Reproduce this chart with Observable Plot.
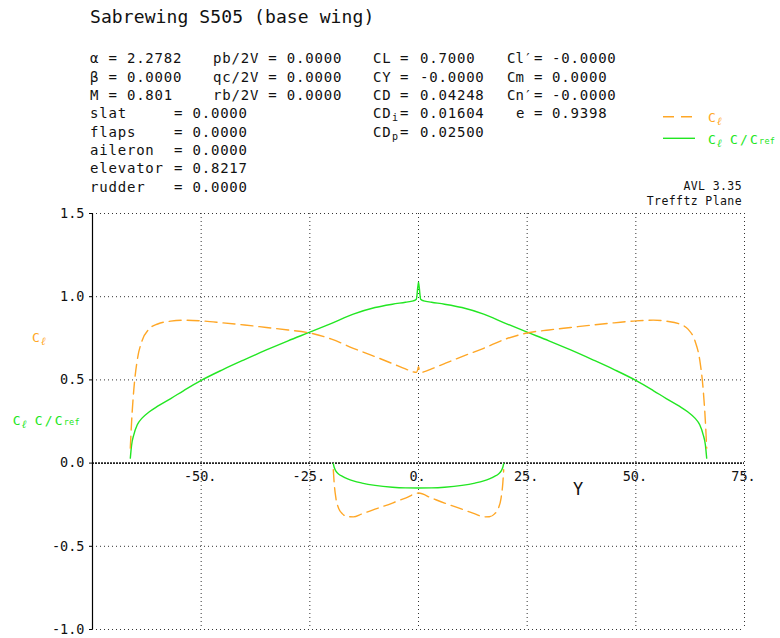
<!DOCTYPE html>
<html><head><meta charset="utf-8">
<script src="https://cdn.jsdelivr.net/npm/d3@7"></script>
<script src="https://cdn.jsdelivr.net/npm/@observablehq/plot@0.6"></script>
<style>
html,body{margin:0;padding:0;background:#fff;}
#chart{position:relative;width:780px;height:638px;overflow:hidden;}
</style></head><body><div id="chart"></div>
<script>
// ---- data ----
const wingStations = [-66.3,-66.0,-65.5,-64.7,-63.6,-62.0,-60,-57,-54,-50,-45,-40,-35,-30,-25,-20,-15,-10,-6,-3,-1.2,-0.5,-0.15,0,0.15,0.5,1.2,3,6,10,15,20,25,30,35,40,45,50,54,57,60,62.0,63.6,64.7,65.5,66.0,66.3];
const wingCl  = [0.09,0.25,0.44,0.62,0.735,0.805,0.836,0.853,0.859,0.855,0.843,0.830,0.815,0.800,0.782,0.745,0.690,0.640,0.598,0.566,0.548,0.545,0.565,0.580,0.565,0.545,0.548,0.566,0.598,0.640,0.690,0.745,0.782,0.800,0.815,0.830,0.843,0.855,0.859,0.853,0.836,0.805,0.735,0.62,0.44,0.25,0.09];
const wingClc = [0.03,0.11,0.17,0.23,0.27,0.307,0.342,0.388,0.436,0.497,0.562,0.622,0.680,0.735,0.787,0.840,0.895,0.935,0.955,0.967,0.975,0.985,1.06,1.087,1.06,0.985,0.975,0.967,0.955,0.935,0.895,0.840,0.787,0.735,0.680,0.622,0.562,0.497,0.436,0.388,0.342,0.307,0.27,0.23,0.17,0.11,0.03];
const tailStations = [-19.6,-19.4,-19.0,-18.4,-17.5,-16.3,-15,-13,-10,-6,-3,0,3,6,10,13,15,16.3,17.5,18.4,19.0,19.4,19.6];
const tailCl  = [-0.04,-0.12,-0.21,-0.27,-0.305,-0.322,-0.323,-0.305,-0.277,-0.24,-0.21,-0.18,-0.21,-0.24,-0.277,-0.305,-0.323,-0.322,-0.305,-0.27,-0.21,-0.12,-0.04];
const tailClc = [-0.003,-0.025,-0.048,-0.065,-0.08,-0.095,-0.107,-0.12,-0.134,-0.145,-0.149,-0.15,-0.149,-0.145,-0.134,-0.12,-0.107,-0.095,-0.08,-0.065,-0.048,-0.025,-0.003];
const xTicks = [-50,-25,0,25,50,75];
const yTicks = [-1,-0.5,0,0.5,1,1.5];
const yGrid = [-1,-0.5,0.5,1,1.5];

const ORANGE = "#ffa726", GREEN = "#22e622";
const FONT = "DejaVu Sans Mono, monospace";

const rows = [];
wingStations.forEach((s,i)=>rows.push({y:s, cl:wingCl[i], clc:wingClc[i], surf:"wing"}));
tailStations.forEach((s,i)=>rows.push({y:s, cl:tailCl[i], clc:tailClc[i], surf:"tail"}));

const plot = Plot.plot({
  width:780, height:638, marginTop:213, marginBottom:9, marginLeft:92, marginRight:36,
  x:{domain:[-75,75], axis:null, label:null},
  y:{domain:[-1,1.5], axis:null, label:null},
  style:{fontFamily:FONT, background:"#fff", color:"#111"},
  marks:[
    Plot.ruleY(yGrid,{stroke:"#333", strokeDasharray:"1,3"}),
    Plot.ruleX(xTicks,{stroke:"#333", strokeDasharray:"1,3"}),
    Plot.ruleY([0],{stroke:"#222", strokeWidth:1.8, strokeDasharray:"2,1"}),
    Plot.ruleX([-75],{stroke:"#000", strokeWidth:1.2}),
    Plot.axisY({ticks:yTicks, tickFormat:d=>d.toFixed(1), tickSize:3, tickPadding:5, fontSize:13.5, stroke:"#000", fill:"#111"}),
    Plot.text(xTicks,{x:d=>d, y:()=>0, text:d=>d.toFixed(0)+".", dy:14, dx:-1, fontSize:13.5, fill:"#111"}),
    Plot.line(rows,{x:"y", y:"clc", z:"surf", stroke:GREEN, strokeWidth:1.4, curve:"monotone-x"}),
    Plot.line(rows,{x:"y", y:"cl", z:"surf", stroke:ORANGE, strokeWidth:1.4, strokeDasharray:"12,6", curve:"monotone-x"})
  ]
});
document.getElementById("chart").appendChild(plot);

// ---- header / annotation text ----
const svg = d3.select(plot);
const g = svg.append("g").attr("font-family",FONT).attr("fill","#111").attr("text-anchor","start");
function txt(x,y,s,o={}){
  const t = g.append("text").attr("x",x).attr("y",y)
    .attr("font-size",o.size||14).attr("letter-spacing",o.ls ?? 0.8)
    .attr("text-anchor",o.anchor||"start").text(s);
  if(o.fill) t.attr("fill",o.fill);
  if(o.italic) t.attr("font-style","italic");
  return t;
}
txt(90,23,"Sabrewing S505 (base wing)",{size:18,ls:0.1});
const r = [63.3,81.7,100,118.3,136.7,155,173.3,191.7];
txt(90,r[0],"α = 2.2782"); txt(90,r[1],"β = 0.0000"); txt(90,r[2],"M = 0.801");
txt(213,r[0],"pb/2V = 0.0000"); txt(213,r[1],"qc/2V = 0.0000"); txt(213,r[2],"rb/2V = 0.0000");
const ctl = [["slat","0.0000"],["flaps","0.0000"],["aileron","0.0000"],["elevator","0.8217"],["rudder","0.0000"]];
ctl.forEach((c,i)=>{ txt(90,r[3+i],c[0]); txt(174,r[3+i],"= "+c[1]); });
const c3 = [["CL","0.7000"],["CY","-0.0000"],["CD","0.04248"],["CD","0.01604"],["CD","0.02500"]];
c3.forEach((c,i)=>{ txt(373,r[i],c[0]); txt(400,r[i],"="); txt(420,r[i],c[1]); });
txt(392,r[3]+3,"i",{size:10,ls:0}); txt(392,r[4]+3,"p",{size:10,ls:0});
const c4 = [["Cl′","-0.0000"],["Cm","0.0000"],["Cn′","-0.0000"]];
c4.forEach((c,i)=>{ txt(507,r[i],c[0],{ls:0}); txt(534,r[i],"="); txt(552,r[i],c[1]); });
txt(516,r[3],"e"); txt(534,r[3],"="); txt(552,r[3],"0.9398");

txt(742,190,"AVL 3.35",{size:11.5,ls:0.4,anchor:"end"});
txt(742,205,"Trefftz Plane",{size:11.5,ls:0.4,anchor:"end"});
txt(578,495,"Y",{size:17,ls:0,anchor:"middle"});

function clLabel(x,y,fill,full){
  txt(x,y,"C",{size:13,ls:0,fill});
  txt(x+9,y+3,"ℓ",{size:11,ls:0,fill,italic:true});
  if(full){
    txt(x+22,y,"C",{size:13,ls:0,fill});
    txt(x+32,y,"/",{size:13,ls:0,fill});
    txt(x+42,y,"C",{size:13,ls:0,fill});
    txt(x+51,y,"ref",{size:8.5,ls:0.3,fill});
  }
}
clLabel(32,342,ORANGE,false);
clLabel(12.7,425,GREEN,true);
clLabel(708,122.3,ORANGE,false);
clLabel(708,144,GREEN,true);
g.append("line").attr("x1",663).attr("x2",694).attr("y1",116.7).attr("y2",116.7)
  .attr("stroke",ORANGE).attr("stroke-width",1.4).attr("stroke-dasharray","11,7");
g.append("line").attr("x1",663).attr("x2",695).attr("y1",138.3).attr("y2",138.3)
  .attr("stroke",GREEN).attr("stroke-width",1.4);
</script></body></html>
